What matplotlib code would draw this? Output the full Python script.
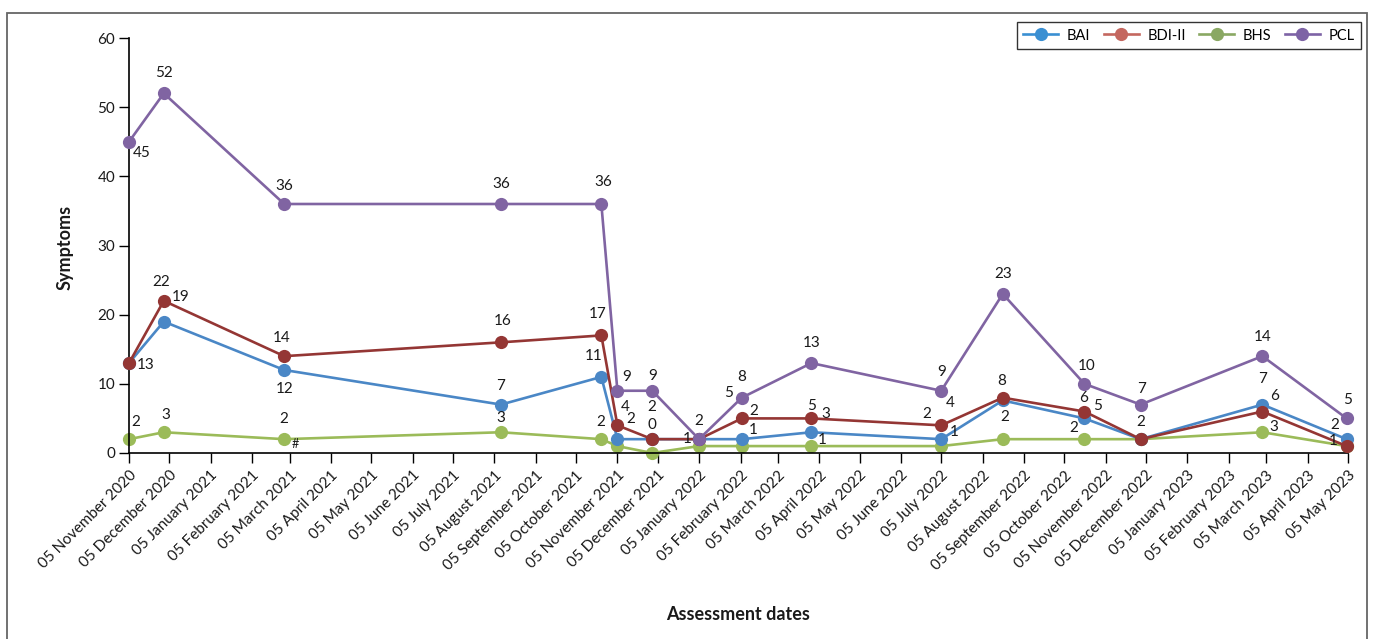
import matplotlib
matplotlib.use("Agg")
import matplotlib.pyplot as plt
import matplotlib.dates as mdates
from matplotlib.lines import Line2D
from matplotlib.patches import Rectangle
import pandas as pd

plt.rcParams['font.family'] = ['Lato', 'DejaVu Sans']

# Assessment dates and scores
dates = pd.to_datetime([
    '2020-11-05', '2020-12-01', '2021-03-01', '2021-08-10', '2021-10-24',
    '2021-11-05', '2021-12-01', '2022-01-05', '2022-02-06', '2022-03-30',
    '2022-07-05', '2022-08-20', '2022-10-20', '2022-12-01', '2023-03-02',
    '2023-05-04'])

bai = [13, 19, 12, 7, 11, 2, 2, 2, 2, 3, 2, 7.6, 5, 2, 7, 2]
bdi = [13, 22, 14, 16, 17, 4, 2, 2, 5, 5, 4, 8, 6, 2, 6, 1]
bhs = [2, 3, 2, 3, 2, 1, 0, 1, 1, 1, 1, 2, 2, 2, 3, 1]
pcl = [45, 52, 36, 36, 36, 9, 9, 2, 8, 13, 9, 23, 10, 7, 14, 5]

series_names = ['BAI', 'BDI-II', 'BHS', 'PCL']
line_colors = ['#4a87c6', '#943634', '#9bbb59', '#8064a2']
legend_colors = ['#3a8fd2', '#c4675f', '#8aa863', '#7d63a5']

# Data labels: (series index, point index, text, dx px, dy px)
labels = [
    (3, 0, '45', 13, -11), (0, 0, '13', 17, -2), (2, 0, '2', 7, 17),
    (3, 1, '52', 0, 20), (1, 1, '22', -3, 19), (0, 1, '19', 17, 25), (2, 1, '3', 2, 17),
    (3, 2, '36', 0, 18), (1, 2, '14', -3, 18), (0, 2, '12', 0, -19), (2, 2, '2', 0, 20),
    (3, 3, '36', 0, 20), (1, 3, '16', 2, 21), (0, 3, '7', 0, 19), (2, 3, '3', 0, 14),
    (3, 4, '36', 2, 22), (1, 4, '17', -4, 21), (0, 4, '11', -8, 21), (2, 4, '2', -1, 17),
    (3, 5, '9', 9, 14), (1, 5, '4', 8, 18), (0, 5, '2', 13, 20),
    (3, 6, '9', 0, 15), (0, 6, '2', 0, 32), (2, 6, '0', 0, 28),
    (3, 7, '2', 0, 18), (2, 7, '1', -12, 7),
    (3, 8, '8', 0, 21), (1, 8, '5', -13, 25), (0, 8, '2', 12, 28), (2, 8, '1', 11, 16),
    (3, 9, '13', 0, 20), (1, 9, '5', 0, 12), (0, 9, '3', 14, 18), (2, 9, '1', 11, 6),
    (3, 10, '9', 0, 19), (1, 10, '4', 9, 22), (0, 10, '2', -14, 25), (2, 10, '1', 13, 14),
    (3, 11, '23', 0, 20), (1, 11, '8', -1, 17), (2, 11, '2', 2, 22),
    (3, 12, '10', 2, 18), (1, 12, '6', -1, 14), (0, 12, '5', 13, 12), (2, 12, '2', -11, 11),
    (3, 13, '7', 1, 16), (1, 13, '2', 0, 17),
    (3, 14, '14', 0, 19), (0, 14, '7', 0, 26), (1, 14, '6', 12, 16), (2, 14, '3', 11, 5),
    (3, 15, '5', 1, 18), (0, 15, '2', -12, 14), (1, 15, '1', -13, 5),
]
# Footnote marker beside the March 2021 BHS point
footnote = (2, 2, '#', 11, -5)

W, H = 1373, 639
fig = plt.figure(figsize=(W / 100, H / 100), dpi=100)
ax = fig.add_axes([129 / W, 1 - 453 / H, (1348 - 129) / W, (453 - 38) / H])

values = [bai, bdi, bhs, pcl]
zorders = [3, 4, 2, 6]
for vals, col, z in zip(values, line_colors, zorders):
    ax.plot(dates, vals, color=col, lw=1.9, marker='o', markersize=9.5,
            markeredgewidth=0, zorder=z, clip_on=False)

for s, p, txt, dx, dy in labels:
    ax.annotate(txt, (dates[p], values[s][p]), xytext=(dx, dy),
                textcoords='offset pixels', ha='center', va='center',
                fontsize=11, color='#1a1a1a', zorder=10)
s, p, txt, dx, dy = footnote
ax.annotate(txt, (dates[p], values[s][p]), xytext=(dx, dy),
            textcoords='offset pixels', ha='center', va='center',
            fontsize=9, color='#1a1a1a', zorder=10)

ax.set_xlim(pd.Timestamp('2020-11-05'), pd.Timestamp('2023-05-05'))
ax.set_ylim(0, 60)
ax.set_yticks(range(0, 61, 10))
ax.xaxis.set_major_locator(mdates.MonthLocator(bymonthday=5))
ax.xaxis.set_major_formatter(mdates.DateFormatter('%d %B %Y'))
for lab in ax.get_xticklabels():
    lab.set_rotation(45)
    lab.set_ha('right')
    lab.set_rotation_mode('anchor')
ax.tick_params(axis='both', labelsize=11, length=7, width=1, color='black',
               labelcolor='#1a1a1a')
ax.tick_params(axis='x', pad=4)
ax.tick_params(axis='y', pad=3)
for side in ('top', 'right'):
    ax.spines[side].set_visible(False)
for side in ('left', 'bottom'):
    ax.spines[side].set_linewidth(1.2)
    ax.spines[side].set_color('black')
ax.patch.set_alpha(0)

fig.text(65 / W, 1 - 247 / H, 'Symptoms', rotation=90, ha='center', va='center',
         fontsize=13, fontweight='bold', color='#1a1a1a')
fig.text(738 / W, 1 - 615 / H, 'Assessment dates', ha='center', va='center',
         fontsize=13, fontweight='bold', color='#1a1a1a')

handles = [Line2D([], [], color=c, lw=1.9, marker='o', markersize=9.5,
                  markeredgewidth=0) for c in legend_colors]
leg = fig.legend(handles, series_names, ncol=4, loc='upper right',
                 bbox_to_anchor=(1361 / W, 1 - 22 / H), frameon=True,
                 fancybox=False, edgecolor='black', fontsize=10.5,
                 handlelength=2.4, columnspacing=0.9, handletextpad=0.6,
                 borderpad=0.45, borderaxespad=0)
leg.get_frame().set_linewidth(1.0)

# outer chart border
fig.add_artist(Rectangle((7 / W, -0.02), (1367 - 7) / W, (H - 13) / H + 0.02,
                         transform=fig.transFigure, fill=False,
                         edgecolor='#666666', lw=1.3))

fig.savefig('out.png', dpi=100)
